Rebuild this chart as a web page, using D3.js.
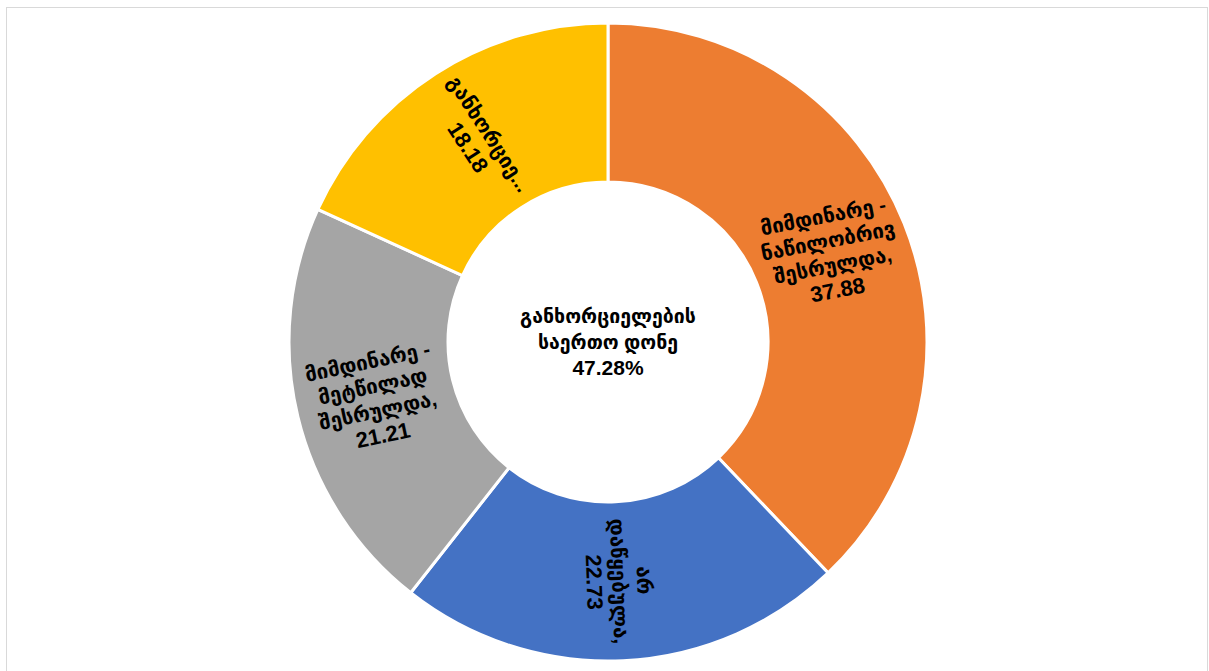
<!DOCTYPE html>
<html>
<head>
<meta charset="utf-8">
<script src="https://cdn.jsdelivr.net/npm/d3@7"></script>
<style>
  html, body { margin: 0; padding: 0; background: #fff; }
  svg { display: block; }
  text { font-family: "Liberation Sans", "DejaVu Sans", sans-serif; font-weight: bold; fill: #000; }
</style>
</head>
<body>
<svg id="chart" width="1209" height="671"></svg>
<script>
// ---- data ----
const categories = [
  "მიმდინარე - ნაწილობრივ შესრულდა",
  "არ დაწყებულა",
  "მიმდინარე - მეტწილად შესრულდა",
  "განხორციელდა"
];
const values = [37.88, 22.73, 21.21, 18.18];
const colors = ["#ED7D31", "#4472C4", "#A5A5A5", "#FFC000"];
// label text lines as shown on the chart (value line is appended)
const labelLines = [
  ["მიმდინარე -", "ნაწილობრივ", "შესრულდა,"],
  ["არ", "დაწყებულა,"],
  ["მიმდინარე -", "მეტწილად", "შესრულდა,"],
  ["განხორციე..."]
];
const centerLines = ["განხორციელების", "საერთო დონე"];
const overallLevel = "47.28%";

// ---- layout ----
const W = 1209, H = 671;
const cx = 608, cy = 342;
const outerR = 319, innerR = 160;
const labelRot = [-11, 88, -12, 57];

const svg = d3.select("#chart");

svg.append("rect")
  .attr("x", 6.5).attr("y", 7.5)
  .attr("width", W - 8).attr("height", H)
  .attr("fill", "#fff").attr("stroke", "#d9d9d9").attr("stroke-width", 1);

const data = values.map((v, i) => ({ name: categories[i], value: v, i }));
const pie = d3.pie().value(d => d.value).sort(null);
const arcs = pie(data);
const arc = d3.arc().innerRadius(innerR).outerRadius(outerR);

const g = svg.append("g").attr("transform", `translate(${cx},${cy})`);

g.selectAll("path.slice")
  .data(arcs)
  .enter().append("path")
  .attr("class", "slice")
  .attr("d", arc)
  .attr("fill", d => colors[d.data.i])
  .attr("stroke", "#fff")
  .attr("stroke-width", 3)
  .attr("stroke-linejoin", "miter");

const fmt = d3.format(".2f");
const lineH = 25;
const labelArc = d3.arc().innerRadius((innerR + outerR) / 2).outerRadius((innerR + outerR) / 2);

arcs.forEach(a => {
  const [x, y] = labelArc.centroid(a);
  const lines = labelLines[a.data.i].concat([fmt(a.data.value)]);
  const t = g.append("text")
    .attr("transform", `translate(${x},${y}) rotate(${labelRot[a.data.i]})`)
    .attr("text-anchor", "middle")
    .style("font-size", "20.5px");
  const n = lines.length;
  lines.forEach((l, k) => {
    t.append("tspan")
      .attr("x", 0)
      .attr("y", (k - (n - 1) / 2) * lineH)
      .attr("dy", "0.35em")
      .style("font-size", k === n - 1 ? "22px" : null)
      .text(l);
  });
});

const allCenter = centerLines.concat([overallLevel]);
const ct = g.append("text").attr("text-anchor", "middle").style("font-size", "19.5px");
allCenter.forEach((l, k) => {
  ct.append("tspan")
    .attr("x", 0)
    .attr("y", (k - 1) * 26)
    .attr("dy", "0.35em")
    .style("font-size", k === allCenter.length - 1 ? "21px" : null)
    .text(l);
});
</script>
</body>
</html>
